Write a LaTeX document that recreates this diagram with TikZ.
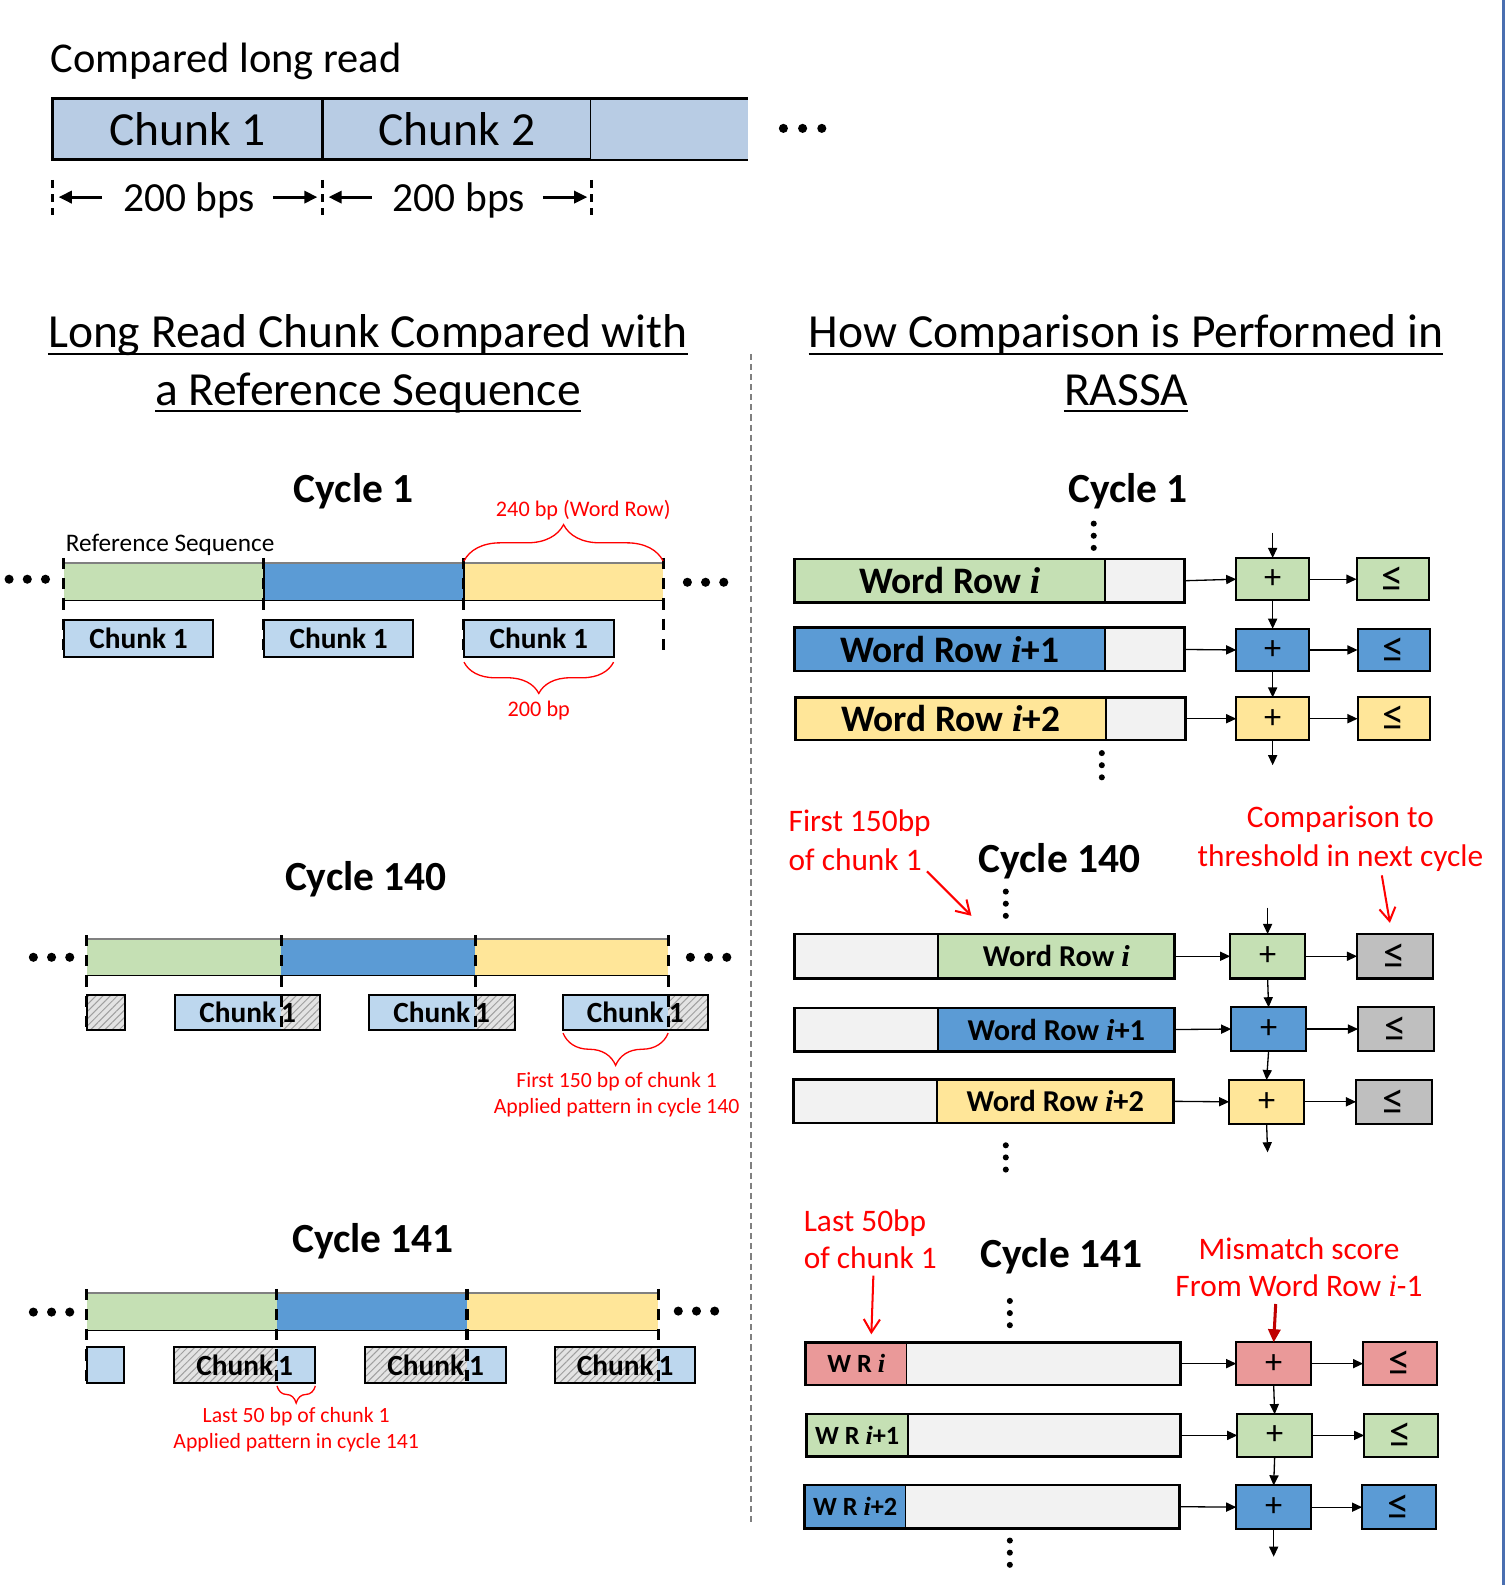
\documentclass[tikz,border=0pt]{standalone}
\usepackage{fontspec}
\setmainfont{Carlito}
\newfontfamily\serifi{Liberation Serif}
\usetikzlibrary{arrows.meta,decorations.pathreplacing,patterns.meta}
\definecolor{ctop}{RGB}{184,204,228}
\definecolor{cchunk}{RGB}{189,215,238}
\definecolor{cgreen}{RGB}{197,224,180}
\definecolor{cblue}{RGB}{91,155,213}
\definecolor{cyellow}{RGB}{255,230,153}
\definecolor{clgray}{RGB}{242,242,242}
\definecolor{cgray}{RGB}{191,191,191}
\definecolor{cpink}{RGB}{234,153,153}
\definecolor{cred}{RGB}{255,0,0}
\definecolor{cdred}{RGB}{192,0,0}
\definecolor{cedge}{RGB}{74,111,176}
\newcommand\FS[1]{\fontsize{#1}{#1}\selectfont}
\newcommand\itxt{{\serifi\bfseries\itshape i}}
\newcommand\leqs{{\FS{44}≤}}
\newcommand\chsplit{Chunk\hspace{5pt}1}
\newcommand\threedots[4]{\foreach \k in {0,1,2}{\fill ({#1+\k*#4},#2) circle[radius=#3pt];}}
\newcommand\vthreedots[2]{\foreach \k in {0,1,2}{\fill (#1,{#2+\k*12}) circle[radius=3pt];}}
\newcommand\wrow[8]{%
  \pgfmathsetmacro\rowwa{#3-#2}\pgfmathsetmacro\rowwb{#4-#3}\pgfmathsetmacro\rowhh{#6-#5}%
  \node[seg, fill=#7, minimum width=\rowwa pt, minimum height=\rowhh pt] (#1a) at (#2,#5) {};
  \node[seg, fill=#8, minimum width=\rowwb pt, minimum height=\rowhh pt] (#1b) at (#3,#5) {};
  \draw[line width=1.5pt] (#1a.north east) -- (#1a.south east);
  \draw[line width=2.5pt] (#1a.north west) rectangle (#1b.south east);
}
\tikzset{
  seg/.style={inner sep=0pt, outer sep=0pt, anchor=north west},
  topchunk/.style={draw, line width=3pt, fill=ctop, anchor=north west, minimum height=61pt, inner sep=0pt, outer sep=0pt, font=\FS{47}},
  chunkbox/.style={draw, line width=2pt, fill=cchunk, anchor=north west, minimum height=37pt, minimum width=148pt, inner sep=0pt, outer sep=0pt, font=\FS{29}\bfseries},
  chunkouter/.style={draw, line width=2pt, anchor=north west, minimum height=35pt, inner sep=0pt, outer sep=0pt, font=\FS{29}\bfseries},
  hatch/.style={preaction={fill=gray!22}, pattern={Lines[angle=45,distance=5pt,line width=1pt]}, pattern color=gray!75},
  dline/.style={line width=3pt, dash pattern=on 11pt off 9pt},
  dimdash/.style={line width=2.5pt, dash pattern=on 8pt off 6pt},
  dimarr/.style={line width=3pt, -{Triangle[length=13pt,width=12pt]}},
  arr/.style={line width=1.3pt, -{Triangle[length=10pt,width=9pt]}},
  redarr/.style={cred, line width=2pt, -{Straight Barb[length=13pt,width=16pt]}},
  brc/.style={cred, line width=1.3pt, decorate},
  opbox/.style={draw, line width=2pt, minimum height=42pt, inner sep=0pt, outer sep=0pt, font=\FS{34}},
  title/.style={anchor=base, inner sep=0pt, font=\FS{47}},
  cyc/.style={anchor=base, inner sep=0pt, font=\FS{41}\bfseries},
  redsmall/.style={anchor=base, inner sep=0pt, text=cred, font=\FS{21.5}},
  redbig/.style={anchor=base, inner sep=0pt, text=cred, font=\FS{31}},
}
\begin{document}
\begin{tikzpicture}[x=1pt,y=-1pt]
\useasboundingbox (0,0) rectangle (1490,1568);
\fill[white] (0,0) rectangle (1490,1568);
% right edge line
\draw[cedge, line width=3pt] (1487,0) -- (1487,1568);

% ===== top: compared long read =====
\node[anchor=base west, inner sep=0pt, font=\FS{42}] (cmp) at (50,72) {Compared long read};
\node[topchunk, minimum width=267pt] (tc1) at (52,97) {Chunk 1};
\node[topchunk, minimum width=266pt] (tc2) at (tc1.north east) {Chunk 2};
\node[seg, fill=ctop, minimum width=155pt, minimum height=61pt] (tc3) at (tc2.north east) {};
\draw[line width=3pt] (tc3.north west) -- (tc3.north east);
\draw[line width=2pt] (tc3.south west) -- (tc3.south east);
\threedots{775}{127}{4.5}{19}
\draw[dimdash] (52,178) -- (52,213);
\draw[dimdash] (319,178) -- (319,213);
\draw[dimdash] (585,178) -- (585,213);
\node[anchor=base, inner sep=0pt, font=\FS{41}] (bp1) at (187,209) {200 bps};
\node[anchor=base, inner sep=0pt, font=\FS{41}] (bp2) at (454,209) {200 bps};
\draw[dimarr] (101,195) -- (58,195);
\draw[dimarr] (270,195) -- (314,195);
\draw[dimarr] (368,195) -- (325,195);
\draw[dimarr] (537,195) -- (581,195);

% ===== titles =====
\node[title] (tl1) at (364,344) {Long Read Chunk Compared with};
\node[title] (tl2) at (364,401) {a Reference Sequence};
\draw[line width=2pt] ([yshift=-6pt]tl1.base west) -- ([yshift=-6pt]tl1.base east);
\draw[line width=2pt] ([yshift=-6pt]tl2.base west) -- ([yshift=-6pt]tl2.base east);
\node[title] (tr1) at (1114,344) {How Comparison is Performed in};
\node[title] (tr2) at (1114,401) {RASSA};
\draw[line width=2pt] ([yshift=-6pt]tr1.base west) -- ([yshift=-6pt]tr1.base east);
\draw[line width=2pt] ([yshift=-6pt]tr2.base west) -- ([yshift=-6pt]tr2.base east);

% separator
\draw[gray, line width=2pt, dash pattern=on 6pt off 4pt] (743,350) -- (743,1508);

% ===== left cycle 1 =====
\node[cyc] (lc1) at (350,497) {Cycle 1};
\node[anchor=base west, inner sep=0pt, font=\FS{25}] (refs) at (65,546) {Reference Sequence};
\fill[cgreen] (63,557) rectangle (261,594);
\fill[cblue] (261,557) rectangle (459,594);
\fill[cyellow] (459,557) rectangle (656,594);
\draw[gray, line width=1.5pt] (63,557) -- (656,557);
\draw[line width=1.5pt] (63,594) -- (656,594);
\draw[line width=1.5pt] (261,557) -- (261,594) (459,557) -- (459,594);
\node[chunkbox] (a1) at (63,613) {Chunk 1};
\node[chunkbox] (a2) at (261,613) {Chunk 1};
\node[chunkbox] (a3) at (459,613) {Chunk 1};
\draw[dline] (63,552) -- (63,650);
\draw[dline] (261,552) -- (261,650);
\draw[dline] (459,552) -- (459,650);
\draw[dline] (656,552) -- (656,646);
\threedots{9}{573}{4.5}{18}
\threedots{680}{576}{4.5}{18}
\draw[brc, decoration={brace, amplitude=36pt}] (459,555) -- (656,555);
\node[redsmall, font=\FS{22}] (w240) at (577,511) {240 bp (Word Row)};
\draw[brc, decoration={brace, amplitude=31pt}] (607,655) -- (459,655);
\node[redsmall, font=\FS{22}] (b200) at (533,709) {200 bp};

% ===== left cycle 140 =====
\node[cyc] (lc2) at (362,881) {Cycle 140};
\fill[cgreen] (86,929) rectangle (278,965);
\fill[cblue] (278,929) rectangle (470,965);
\fill[cyellow] (470,929) rectangle (661,965);
\draw[gray, line width=1.5pt] (86,929) -- (661,929);
\draw[line width=1.5pt] (86,965) -- (661,965);
\fill[hatch] (86,984) rectangle (124,1019);
\draw[line width=2pt] (86,984) rectangle (124,1019);
\fill[cchunk] (173,984) rectangle (278,1019);
\fill[hatch] (278,984) rectangle (317,1019);
\node[chunkouter, minimum width=144pt] (b1) at (173,984) {\chsplit};
\fill[cchunk] (365,984) rectangle (470,1019);
\fill[hatch] (470,984) rectangle (509,1019);
\node[chunkouter, minimum width=144pt] (b2) at (365,984) {\chsplit};
\fill[cchunk] (557,984) rectangle (661,1019);
\fill[hatch] (661,984) rectangle (700,1019);
\node[chunkouter, minimum width=143pt] (b3) at (557,984) {\chsplit};
\draw[dline] (86,925) -- (86,1020);
\draw[dline] (278,925) -- (278,1020);
\draw[dline] (470,925) -- (470,1020);
\draw[dline] (661,925) -- (661,1020);
\threedots{33}{947}{4.5}{18}
\threedots{683}{947}{4.5}{18}
\draw[brc, decoration={brace, amplitude=32pt}] (661,1022) -- (557,1022);
\node[redsmall] (f150) at (610,1076) {First 150 bp of chunk 1};
\node[redsmall] (ap140) at (610,1102) {Applied pattern in cycle 140};

% ===== left cycle 141 =====
\node[cyc] (lc3) at (369,1239) {Cycle 141};
\fill[cgreen] (86,1279) rectangle (274,1316);
\fill[cblue] (274,1279) rectangle (462,1316);
\fill[cyellow] (462,1279) rectangle (651,1316);
\draw[gray, line width=1.5pt] (86,1279) -- (651,1279);
\draw[line width=1.5pt] (86,1316) -- (651,1316);
\fill[cchunk] (86,1333) rectangle (123,1368);
\draw[line width=2pt] (86,1333) rectangle (123,1368);
\fill[hatch] (172,1333) rectangle (274,1368);
\fill[cchunk] (274,1333) rectangle (312,1368);
\node[chunkouter, minimum width=140pt] (c1) at (172,1333) {\chsplit};
\fill[hatch] (361,1333) rectangle (462,1368);
\fill[cchunk] (462,1333) rectangle (501,1368);
\node[chunkouter, minimum width=140pt] (c2) at (361,1333) {\chsplit};
\fill[hatch] (549,1333) rectangle (651,1368);
\fill[cchunk] (651,1333) rectangle (688,1368);
\node[chunkouter, minimum width=139pt] (c3) at (549,1333) {\chsplit};
\draw[dline] (86,1275) -- (86,1370);
\draw[dline] (274,1275) -- (274,1370);
\draw[dline] (462,1275) -- (462,1370);
\draw[dline] (651,1275) -- (651,1370);
\threedots{33}{1298}{4.5}{18}
\threedots{671}{1297}{4.5}{18}
\draw[brc, decoration={brace, amplitude=17pt}] (312,1371) -- (274,1371);
\node[redsmall] (l50) at (293,1407) {Last 50 bp of chunk 1};
\node[redsmall] (ap141) at (293,1433) {Applied pattern in cycle 141};

% ===== right cycle 1 =====
\node[cyc] (rc1) at (1116,497) {Cycle 1};
\vthreedots{1082}{518}
\wrow{ra}{786}{1093}{1172}{553}{596}{cgreen}{clgray}
\wrow{rb}{786}{1093}{1172}{621}{664}{cblue}{clgray}
\wrow{rc}{787}{1094}{1173}{690}{732}{cyellow}{clgray}
\node[font=\FS{37}\bfseries] (tra) at (raa.center) {Word Row \itxt};
\node[font=\FS{37}\bfseries] (trb) at (rba.center) {Word Row \itxt+1};
\node[font=\FS{37}\bfseries] (trc) at (rca.center) {Word Row \itxt+2};
\node[opbox, fill=cgreen, minimum width=72pt] (pa) at (1259,573) {+};
\node[opbox, fill=cblue, minimum width=72pt] (pb) at (1259,643) {+};
\node[opbox, fill=cyellow, minimum width=72pt] (pc) at (1259,711) {+};
\node[opbox, fill=cgreen, minimum width=72pt] (qa) at (1378,573) {\leqs};
\node[opbox, fill=cblue, minimum width=72pt] (qb) at (1379,643) {\leqs};
\node[opbox, fill=cyellow, minimum width=72pt] (qc) at (1379,711) {\leqs};
\coordinate (ta) at (1259,527);
\coordinate (ea) at (1259,757);
\draw[arr] (rab.east) -- (pa.west);
\draw[arr] (rbb.east) -- (pb.west);
\draw[arr] (rcb.east) -- (pc.west);
\draw[arr] (pa.east) -- (qa.west);
\draw[arr] (pb.east) -- (qb.west);
\draw[arr] (pc.east) -- (qc.west);
\draw[arr] (ta) -- (pa.north);
\draw[arr] (pa.south) -- (pb.north);
\draw[arr] (pb.south) -- (pc.north);
\draw[arr] (pc.south) -- (ea);
\vthreedots{1090}{745}

% ===== right cycle 140 =====
\node[cyc] (rc2) at (1048,863) {Cycle 140};
\vthreedots{995}{882}
\node[redbig, anchor=base west] (r150a) at (780,823) {First 150bp};
\node[redbig, anchor=base west] (r150b) at (780,861) {of chunk 1};
\node[redbig] (rcmpa) at (1326,819) {Comparison to};
\node[redbig] (rcmpb) at (1326,857) {threshold in next cycle};
\wrow{sa}{786}{928}{1162}{924}{968}{clgray}{cgreen}
\wrow{sb}{786}{928}{1162}{997}{1040}{clgray}{cblue}
\wrow{sc}{785}{927}{1161}{1068}{1111}{clgray}{cyellow}
\node[font=\FS{30}\bfseries] (tsa) at (sab.center) {Word Row \itxt};
\node[font=\FS{30}\bfseries] (tsb) at (sbb.center) {Word Row \itxt+1};
\node[font=\FS{30}\bfseries] (tsc) at (scb.center) {Word Row \itxt+2};
\node[opbox, fill=cgreen, minimum width=74pt, minimum height=44pt] (ua) at (1254,946) {+};
\node[opbox, fill=cblue, minimum width=74pt, minimum height=43pt] (ub) at (1255,1018) {+};
\node[opbox, fill=cyellow, minimum width=74pt, minimum height=43pt] (uc) at (1253,1090) {+};
\node[opbox, fill=cgray, minimum width=75pt, minimum height=44pt] (va) at (1380,946) {\leqs};
\node[opbox, fill=cgray, minimum width=75pt, minimum height=43pt] (vb) at (1381,1018) {\leqs};
\node[opbox, fill=cgray, minimum width=75pt, minimum height=43pt] (vc) at (1379,1090) {\leqs};
\coordinate (tu) at (1254,898);
\coordinate (eu) at (1254,1140);
\draw[arr] (sab.east) -- (ua.west);
\draw[arr] (sbb.east) -- (ub.west);
\draw[arr] (scb.east) -- (uc.west);
\draw[arr] (ua.east) -- (va.west);
\draw[arr] (ub.east) -- (vb.west);
\draw[arr] (uc.east) -- (vc.west);
\draw[arr] (tu) -- (ua.north);
\draw[arr] (ua.south) -- (ub.north);
\draw[arr] (ub.south) -- (uc.north);
\draw[arr] (uc.south) -- (eu);
\vthreedots{995}{1133}
\coordinate (ra1) at (917,862);
\coordinate (ra2) at (961,906);
\draw[redarr] (ra1) -- (ra2);
\coordinate (rb1) at (1367,866);
\coordinate (rb2) at (1375,913);
\draw[redarr] (rb1) -- (rb2);

% ===== right cycle 141 =====
\node[cyc] (rc3) at (1050,1254) {Cycle 141};
\vthreedots{999}{1287}
\node[redbig, anchor=base west] (r50a) at (795,1218) {Last 50bp};
\node[redbig, anchor=base west] (r50b) at (795,1255) {of chunk 1};
\node[redbig] (rmsa) at (1285,1246) {Mismatch score};
\node[redbig] (rmsb) at (1285,1283) {From Word Row {\serifi\itshape i}-1};
\wrow{xa}{797}{897}{1168}{1328}{1370}{cpink}{clgray}
\wrow{xb}{798}{898}{1168}{1399}{1441}{cgreen}{clgray}
\wrow{xc}{796}{896}{1167}{1469}{1512}{cblue}{clgray}
\node[font=\FS{26}\bfseries] (txa) at (xaa.center) {W R \itxt};
\node[font=\FS{26}\bfseries] (txb) at (xba.center) {W R \itxt+1};
\node[font=\FS{26}\bfseries] (txc) at (xca.center) {W R \itxt+2};
\node[opbox, fill=cpink, minimum width=74pt] (ya) at (1260,1349) {+};
\node[opbox, fill=cgreen, minimum width=74pt] (yb) at (1261,1420) {+};
\node[opbox, fill=cblue, minimum width=74pt, minimum height=43pt] (yc) at (1260,1491) {+};
\node[opbox, fill=cpink, minimum width=73pt] (za) at (1385,1349) {\leqs};
\node[opbox, fill=cgreen, minimum width=73pt] (zb) at (1386,1420) {\leqs};
\node[opbox, fill=cblue, minimum width=73pt, minimum height=43pt] (zc) at (1384,1491) {\leqs};
\coordinate (ey) at (1260,1540);
\draw[arr] (xab.east) -- (ya.west);
\draw[arr] (xbb.east) -- (yb.west);
\draw[arr] (xcb.east) -- (yc.west);
\draw[arr] (ya.east) -- (za.west);
\draw[arr] (yb.east) -- (zb.west);
\draw[arr] (yc.east) -- (zc.west);
\draw[arr] (ya.south) -- (yb.north);
\draw[arr] (yb.south) -- (yc.north);
\draw[arr] (yc.south) -- (ey);
\vthreedots{999}{1524}
\coordinate (rc1a) at (864,1262);
\coordinate (rc1b) at (862,1320);
\draw[redarr] (rc1a) -- (rc1b);
\coordinate (rd1) at (1262,1290);
\draw[cdred, line width=3pt, -{Triangle[length=13pt,width=12pt]}] (rd1) -- (ya.north);
\end{tikzpicture}
\end{document}
